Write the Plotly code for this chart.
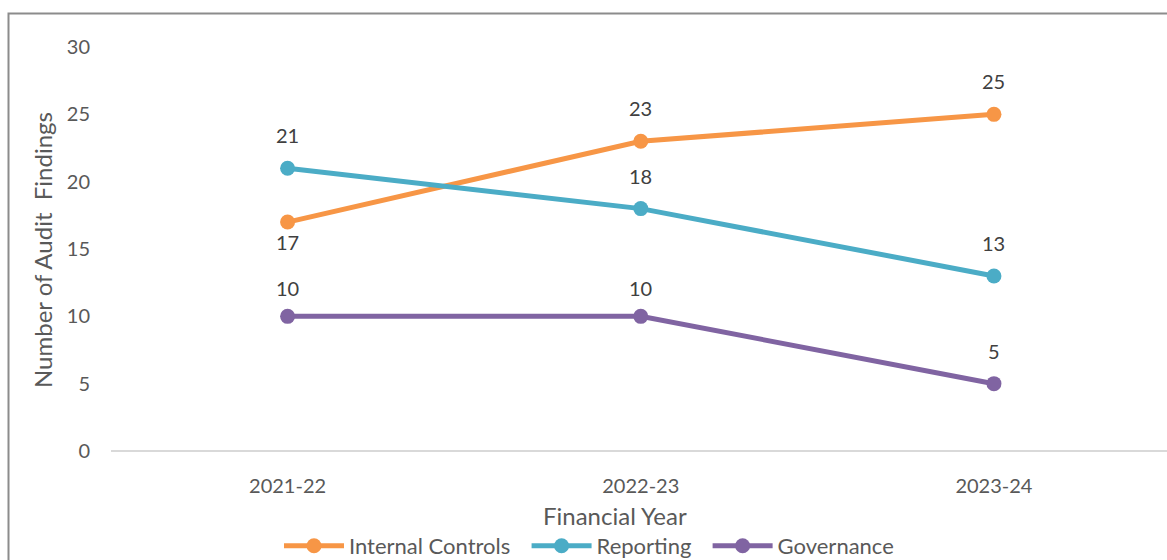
import plotly.graph_objects as go

years = ["2021-22", "2022-23", "2023-24"]
internal_controls = [17, 23, 25]
reporting = [21, 18, 13]
governance = [10, 10, 5]

series = [
    ("Internal Controls", internal_controls, "#F79646"),
    ("Reporting", reporting, "#4BACC6"),
    ("Governance", governance, "#8064A2"),
]
# label offsets (px) for data labels: positive = above
label_shift = {
    "Internal Controls": [-20, 33, 33],
    "Reporting": [33, 33, 33],
    "Governance": [28, 28, 33],
}

FONT = "Lato, Carlito, Calibri, sans-serif"
PH = 404

fig = go.Figure()
annotations = []
for name, vals, col in series:
    fig.add_trace(go.Scatter(
        x=years, y=vals, name=name + "  ", mode="lines+markers",
        line=dict(color=col, width=5),
        marker=dict(color=col, size=15),
    ))
    for xv, yv, sh in zip(years, vals, label_shift[name]):
        annotations.append(dict(
            x=xv, y=yv, xref="x", yref="y", text=str(yv), showarrow=False,
            yshift=sh, yanchor="middle", xanchor="center",
            font=dict(family=FONT, size=20, color="#404040"),
        ))

annotations.append(dict(
    text="Financial Year", xref="paper", yref="paper",
    x=(615 - 111) / 1056, y=(451 - 515) / PH, showarrow=False,
    xanchor="center", yanchor="middle",
    font=dict(family=FONT, size=24, color="#595959"),
))
annotations.append(dict(
    text="Number of Audit\u00a0 Findings", xref="paper", yref="paper",
    x=(42 - 111) / 1056, y=(451 - 250) / PH, showarrow=False, textangle=-90,
    xanchor="center", yanchor="middle",
    font=dict(family=FONT, size=24, color="#595959"),
))

fig.update_layout(
    width=1167, height=560,
    margin=dict(l=111, r=0, t=47, b=109, autoexpand=False),
    paper_bgcolor="white", plot_bgcolor="white",
    font=dict(family=FONT, size=20, color="#595959"),
    showlegend=True,
    legend=dict(
        orientation="h", x=(595 - 111) / 1056, xanchor="center",
        y=(451 - 546) / PH, yanchor="middle",
        font=dict(family=FONT, size=22, color="#595959"),
        itemwidth=60, tracegroupgap=0,
    ),
    annotations=annotations,
    shapes=[dict(
        type="rect", xref="paper", yref="paper",
        x0=(8.5 - 111) / 1056, x1=1.2, y0=-0.6, y1=(451 - 13.5) / PH,
        line=dict(color="#8C8C8C", width=2), fillcolor="rgba(0,0,0,0)", layer="below",
    )],
)
fig.update_xaxes(
    type="category", range=[-0.5, 2.49], showgrid=False, zeroline=False,
    showline=False, ticks="", ticklabelstandoff=21,
    tickfont=dict(family=FONT, size=20, color="#595959"),
)
fig.update_yaxes(
    range=[0, 30], dtick=5, tick0=0, showgrid=False, zeroline=True,
    zerolinecolor="#D9D9D9", zerolinewidth=2, showline=False, ticks="",
    ticklabelstandoff=20,
    tickfont=dict(family=FONT, size=20, color="#595959"),
)

fig.write_html("out.html")
